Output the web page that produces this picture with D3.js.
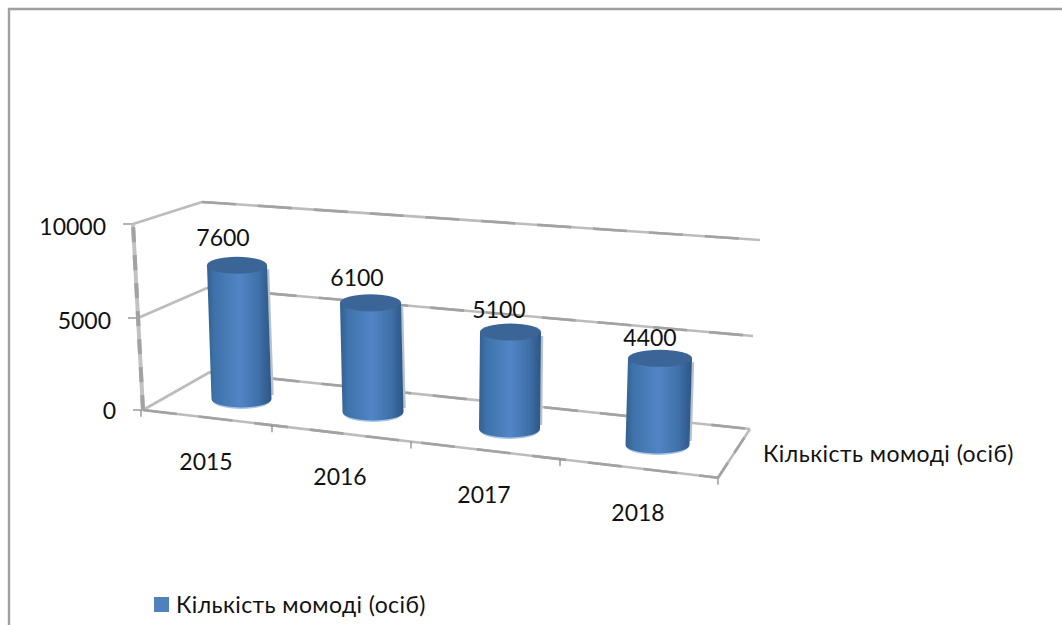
<!DOCTYPE html>
<html><head><meta charset="utf-8">
<script src="https://cdn.jsdelivr.net/npm/d3@7"></script>
<style>html,body{margin:0;padding:0;background:#fff}svg{display:block}text{font-family:Lato,"Noto Sans",sans-serif;fill:#111}</style>
</head><body><div id="c"></div>
<script>
const categories = ["2015","2016","2017","2018"];
const seriesName = "Кількість момоді (осіб)";
const values = [7600,6100,5100,4400];
const yTicks = [0,5000,10000];
const idx = categories.map((d,i)=>i);

const W=1062,H=625,fs=23;
const svg=d3.select("#c").append("svg").attr("width",W).attr("height",H);
const defs=svg.append("defs");
defs.append("filter").attr("id","soft").append("feGaussianBlur").attr("stdDeviation",0.6);
const g=defs.append("linearGradient").attr("id","cyl");
[[0,"#33608f"],[.12,"#3e72aa"],[.5,"#5285c5"],[.8,"#3f70a8"],[1,"#2c5685"]].forEach(s=>g.append("stop").attr("offset",s[0]).attr("stop-color",s[1]));

// perspective wall scales
const frontX=d3.scaleLinear().domain([0,5000,10000]).range([143,138,133]);
const frontY=d3.scaleLinear().domain([0,5000,10000]).range([410,318,224]);
const backX =d3.scaleLinear().domain([0,5000,10000]).range([210,207,202]);
const backY =d3.scaleLinear().domain([0,5000,10000]).range([372,288,202]);
const endX  =d3.scaleLinear().domain([0,5000,10000]).range([750,753,760]);
const endY  =d3.scaleLinear().domain([0,5000,10000]).range([429,336,240]);
// category scales (perspective foreshortening: one stop per category)
const topX=d3.scaleLinear().domain(idx).range([237,370.5,510.5,660]);
const botX=d3.scaleLinear().domain(idx).range([241.5,373,509.5,657.5]);
const baseY=d3.scaleLinear().domain(idx).range([399,412,429,445]);
const unit=d3.scaleLinear().domain(idx).range([.0176,.0179,.0190,.0197]);
const halfW=d3.scaleLinear().domain(idx).range([30,30.5,30.5,32]);
const labX=d3.scaleLinear().domain(idx).range([223,357,499,650]);
const labY=d3.scaleLinear().domain(idx).range([238,278,310,338]);
const catX=d3.scaleLinear().domain(idx).range([206,340,484,638]);
const catY=d3.scaleLinear().domain(idx).range([462,477,495,513]);
const tickX=d3.scaleLinear().domain([0,1,2,3,4]).range([141,272,411,560,718]);
const floorY=d3.scaleLinear().domain([143,720]).range([410,478]);
const yLabelEnd=d3.scaleLinear().domain([0,10000]).range([116,106]);

const lines=svg.append("g").attr("filter","url(#soft)");
const line=(x1,y1,x2,y2,c="#bcbcbc",w=2.6,dash=false)=>{
  lines.append("line").attr("x1",x1).attr("y1",y1).attr("x2",x2).attr("y2",y2).attr("stroke",c).attr("stroke-width",w);
  if(dash) lines.append("line").attr("x1",x1).attr("y1",y1).attr("x2",x2).attr("y2",y2).attr("stroke","#a2a2a2").attr("stroke-width",w).attr("stroke-dasharray",dash);
};

// outer frame
svg.append("path").attr("d",`M9,${H}V9H${W}`).attr("fill","none").attr("stroke","#a0a0a0").attr("stroke-width",2.4);

yTicks.forEach(v=>{
  line(frontX(v),frontY(v),backX(v),backY(v));
  line(backX(v),backY(v),endX(v),endY(v),"#bcbcbc",2.6,"34 22");
  line(frontX(v)-10,frontY(v),frontX(v),frontY(v),"#8c8c8c",1.3);
});
line(frontX(0),frontY(0),frontX(10000),frontY(10000),"#c2c2c2",4,"15 13");
line(143,floorY(143),718,floorY(718),"#bcbcbc",2.6,"34 22");
line(718,floorY(718),endX(0),endY(0),"#bcbcbc",2.6,"18 12");
d3.range(5).forEach(i=>{const x=tickX(i),y=floorY(x);line(x,y,x,y+7,"#8c8c8c",1.3);});

// cylinders
const cyl=svg.append("g").attr("filter","url(#soft)");
idx.forEach(i=>{
  const r=halfW(i),ry=8.5,bx=botX(i),by=baseY(i);
  const ty=by-values[i]*unit(i),tx=topX(i);
  cyl.append("line").attr("x1",tx+r+1).attr("y1",ty+4).attr("x2",bx+r+1).attr("y2",by-4).attr("stroke","#b8c2cc").attr("stroke-width",2.5);
  cyl.append("ellipse").attr("cx",bx).attr("cy",by+1.5).attr("rx",r-1).attr("ry",ry).attr("fill","#a9c4e4");
  cyl.append("path").attr("fill","url(#cyl)")
    .attr("d",`M${tx-r},${ty}L${bx-r},${by}A${r},${ry} 0 0 0 ${bx+r},${by}L${tx+r},${ty}Z`);
  cyl.append("ellipse").attr("cx",tx).attr("cy",ty).attr("rx",r).attr("ry",ry).attr("fill","#3a6597");
});

// text
const T=(x,y,s,a="middle")=>svg.append("text").attr("x",x).attr("y",y).attr("dy",".35em").attr("text-anchor",a).attr("font-size",fs).text(s);
idx.forEach(i=>{T(labX(i),labY(i),d3.format("d")(values[i]));T(catX(i),catY(i),categories[i]);});
yTicks.forEach(v=>T(yLabelEnd(v),frontY(v)+(v?3:1),d3.format("d")(v),"end"));
T(763,454,seriesName,"start").attr("letter-spacing",0.45);
// legend
svg.append("rect").attr("x",154).attr("y",597).attr("width",15).attr("height",15).attr("fill","#4f81bd");
T(176,605,seriesName,"start").attr("letter-spacing",0.4);
</script></body></html>
